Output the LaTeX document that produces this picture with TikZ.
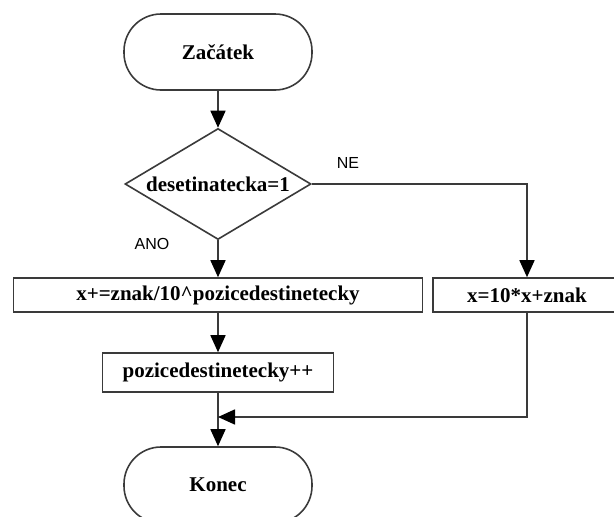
\documentclass[tikz,border=0pt]{standalone}
\usepackage{fontspec}
\setmainfont{Liberation Serif}
\newfontfamily\labelfont{Liberation Sans}
\usetikzlibrary{arrows.meta,shapes.geometric}
\definecolor{lineclr}{HTML}{3A3A3A}
\begin{document}
\begin{tikzpicture}[x=1pt,y=-1pt,
  line width=1.6pt,
  every node/.style={font=\bfseries\fontsize{21}{24}\selectfont, text=black},
  terminal/.style={draw=lineclr, rectangle, rounded corners=37pt, minimum width=188pt, minimum height=76pt, inner sep=0pt},
  process/.style={draw=lineclr, rectangle, inner sep=0pt},
  decision/.style={draw=lineclr, diamond, inner sep=0pt, minimum width=186pt, minimum height=111pt},
  flow/.style={draw=lineclr, -{Triangle[width=15pt,length=17pt,color=black]}},
  branch/.style={font=\labelfont\fontsize{16}{18}\selectfont}
]
\useasboundingbox (0,0) rectangle (614,517);
\clip (0,0) rectangle (614,517);

% blocks of the flowchart
\node[terminal] (start) at (218,52) {Začátek};
% zero-width text box keeps the diamond at its fixed size
\node[decision] (dec) at (218,184) {\makebox[0pt]{desetinatecka=1}};
\node[process, minimum width=409pt, minimum height=34pt] (frac) at (218,295) {x+=znak/10\textasciicircum pozicedestinetecky};
\node[process, minimum width=188pt, minimum height=34pt] (int) at (527,295) {x=10*x+znak};
\node[process, minimum width=231pt, minimum height=39pt] (inc) at (218,372.5) {pozicedestinetecky++};
\node[terminal] (end) at (218,485) {Konec};
\coordinate (join) at (218,417);

% branch labels
\node[branch] (yes) at (152,244) {ANO};
\node[branch] (no) at (348,163) {NE};

% connectors
\draw[flow] (start.south) -- (dec.north);
\draw[flow] (dec.south) -- (frac.north);
\draw[flow] (dec.east) -| (int.north);
\draw[flow] (frac.south) -- (inc.north);
\draw[lineclr] (inc.south) -- (join);
\draw[flow] (join) -- (end.north);
\draw[flow] (int.south) |- (join);
\end{tikzpicture}
\end{document}
